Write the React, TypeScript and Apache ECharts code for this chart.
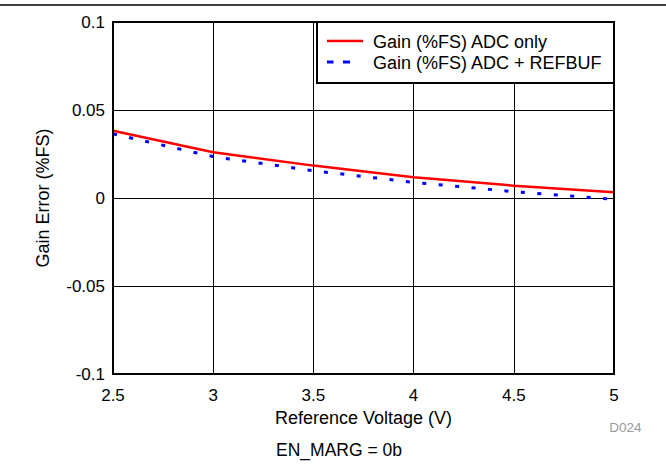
import React, { useEffect, useRef } from "react";
import * as echarts from "echarts";

const voltages = [2.5, 3.0, 3.5, 4.0, 4.5, 5.0];
const adcOnly = [0.0382, 0.026, 0.0184, 0.0118, 0.007, 0.0032];
const adcRefbuf = [0.0364, 0.0235, 0.0155, 0.0089, 0.0036, -0.0008];
const seriesNames = ["Gain (%FS) ADC only", "Gain (%FS) ADC + REFBUF"];
const xTitle = "Reference Voltage (V)";
const yTitle = "Gain Error (%FS)";
const footNote = "EN_MARG = 0b";
const figId = "D024";

const FONT = "'Liberation Sans', Arial, sans-serif";

export default function App() {
  const ref = useRef<HTMLDivElement>(null);
  useEffect(() => {
    if (!ref.current) return;
    const chart = echarts.init(ref.current, undefined, { renderer: "svg" });
    const pair = (ys: number[]) => voltages.map((v, i) => [v, ys[i]]);
    chart.setOption({
      animation: false,
      backgroundColor: "#fff",
      textStyle: { fontFamily: FONT },
      grid: {
        left: 113,
        top: 22,
        width: 501,
        height: 352,
        show: true,
        borderColor: "#000",
        borderWidth: 2,
        backgroundColor: "transparent",
        z: 5,
      },
      xAxis: {
        type: "value",
        min: 2.5,
        max: 5,
        interval: 0.5,
        axisLine: { show: false },
        axisTick: { show: false },
        splitLine: { show: true, lineStyle: { color: "#000", width: 1 } },
        axisLabel: { color: "#000", fontSize: 17, margin: 13, fontFamily: FONT },
        name: xTitle,
        nameLocation: "middle",
        nameGap: 34,
        nameTextStyle: { color: "#000", fontSize: 18, fontFamily: FONT },
      },
      yAxis: {
        type: "value",
        min: -0.1,
        max: 0.1,
        interval: 0.05,
        axisLine: { show: false },
        axisTick: { show: false },
        splitLine: { show: true, lineStyle: { color: "#000", width: 1 } },
        axisLabel: { color: "#000", fontSize: 17, margin: 8, fontFamily: FONT },
        name: yTitle,
        nameLocation: "middle",
        nameGap: 61,
        nameTextStyle: { color: "#000", fontSize: 18, fontFamily: FONT },
      },
      series: [
        {
          name: seriesNames[0],
          type: "line",
          data: pair(adcOnly),
          showSymbol: false,
          lineStyle: { color: "#ff0000", width: 2.5 },
          z: 3,
        },
        {
          name: seriesNames[1],
          type: "line",
          data: pair(adcRefbuf),
          showSymbol: false,
          lineStyle: { color: "#0000ff", width: 3, type: [4, 12.5] },
          z: 2,
        },
      ],
      graphic: [
        {
          type: "line",
          shape: { x1: 0, y1: 5, x2: 666, y2: 5 },
          style: { stroke: "#000", lineWidth: 1.5 },
        },
        {
          type: "rect",
          shape: { x: 317, y: 22, width: 297, height: 61 },
          style: { fill: "#fff", stroke: "#000", lineWidth: 2 },
          z: 10,
        },
        {
          type: "line",
          shape: { x1: 327, y1: 41, x2: 363, y2: 41 },
          style: { stroke: "#ff0000", lineWidth: 2.5 },
          z: 11,
        },
        {
          type: "line",
          shape: { x1: 327, y1: 62, x2: 333.5, y2: 62 },
          style: { stroke: "#0000ff", lineWidth: 3 },
          z: 11,
        },
        {
          type: "line",
          shape: { x1: 343, y1: 62, x2: 350, y2: 62 },
          style: { stroke: "#0000ff", lineWidth: 3 },
          z: 11,
        },
        {
          type: "text",
          x: 373,
          y: 41.5,
          style: { text: seriesNames[0], fontSize: 18, fontFamily: FONT, fill: "#000", verticalAlign: "middle" },
          z: 11,
        },
        {
          type: "text",
          x: 373,
          y: 62.5,
          style: { text: seriesNames[1], fontSize: 18, fontFamily: FONT, fill: "#000", verticalAlign: "middle" },
          z: 11,
        },
        {
          type: "text",
          x: 625.5,
          y: 427,
          style: { text: figId, fontSize: 13.5, fontFamily: FONT, fill: "#999", align: "center", verticalAlign: "middle" },
        },
        {
          type: "text",
          x: 339,
          y: 450,
          style: { text: footNote, fontSize: 17.5, fontFamily: FONT, fill: "#000", align: "center", verticalAlign: "middle" },
        },
      ],
    });
    return () => chart.dispose();
  }, []);
  return (
    <div
      ref={ref}
      style={{ position: "absolute", left: 0, top: 0, width: 666, height: 464 }}
    />
  );
}
